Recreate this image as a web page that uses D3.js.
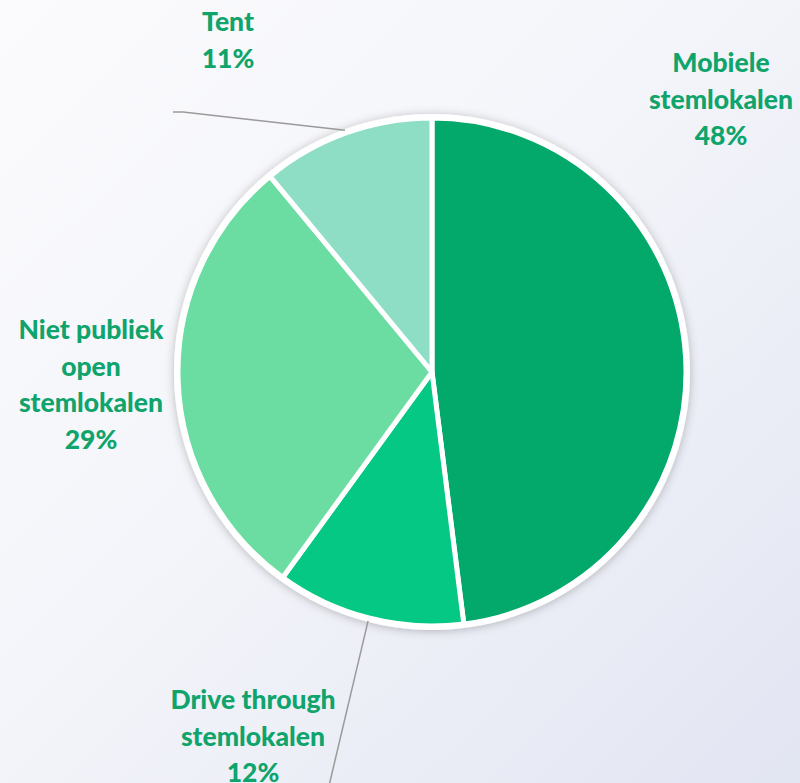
<!DOCTYPE html>
<html>
<head>
<meta charset="utf-8">
<script src="https://cdn.jsdelivr.net/npm/d3@7"></script>
<style>
  html, body { margin: 0; padding: 0; }
  body { width: 800px; height: 783px; overflow: hidden; }
</style>
</head>
<body>
<svg id="chart" width="800" height="783"></svg>
<script>
// chart data
const categories = ["Mobiele stemlokalen", "Drive through stemlokalen", "Niet publiek open stemlokalen", "Tent"];
const values = [48, 12, 29, 11];
const labelLines = [
    ["Mobiele", "stemlokalen"],
    ["Drive through", "stemlokalen"],
    ["Niet publiek", "open", "stemlokalen"],
    ["Tent"]
];

// styling / layout, kept apart from the data
const sliceColors = ["#03a86b", "#05c884", "#6bdda2", "#8ddec4"];
const labelColor = "#0fa46b";
const labelAnchors = [[721, 63], [253, 700], [91, 330], [228, 22]];
const leaders = { 3: [[173, 112], [183, 112]], 1: [[328, 790]] };

const renderPie = () => {
    const width = 800, height = 783;
    const cx = 432, cy = 372, radius = 254;
    const lineHeight = 36.5;

    const svg = d3.select("#chart");
    const defs = svg.append("defs");

    const bg = defs.append("linearGradient")
        .attr("id", "bg")
        .attr("x1", "0").attr("y1", "0")
        .attr("x2", "1").attr("y2", "1");
    bg.append("stop").attr("offset", "0").attr("stop-color", "#fbfbfd");
    bg.append("stop").attr("offset", "0.45").attr("stop-color", "#f4f5fa");
    bg.append("stop").attr("offset", "1").attr("stop-color", "#e2e5f2");

    const shadow = defs.append("filter")
        .attr("id", "shadow")
        .attr("x", "-20%").attr("y", "-20%")
        .attr("width", "140%").attr("height", "140%");
    shadow.append("feDropShadow")
        .attr("dx", 0).attr("dy", 1)
        .attr("stdDeviation", 5)
        .attr("flood-color", "#000")
        .attr("flood-opacity", 0.25);

    svg.append("rect")
        .attr("width", width).attr("height", height)
        .attr("fill", "url(#bg)");

    const pie = d3.pie().sort(null).value(d => d);
    const arcs = pie(values);

    const arc = d3.arc().innerRadius(0).outerRadius(radius);
    const edgeArc = d3.arc().innerRadius(radius + 3).outerRadius(radius + 3);

    const g = svg.append("g").attr("transform", `translate(${cx},${cy})`);

    // white backing disk with shadow, gives the outer white rim
    g.append("circle")
        .attr("r", radius + 4)
        .attr("fill", "#fff")
        .attr("filter", "url(#shadow)");

    g.selectAll("path.slice")
        .data(arcs)
        .enter()
        .append("path")
        .attr("class", "slice")
        .attr("d", arc)
        .attr("fill", (d, i) => sliceColors[i])
        .attr("stroke", "#fff")
        .attr("stroke-width", 5)
        .attr("stroke-linejoin", "round");

    // leader lines from arc midpoint to label
    Object.keys(leaders).forEach(key => {
        const i = +key;
        const [ex, ey] = edgeArc.centroid(arcs[i]);
        const pts = leaders[key].concat([[cx + ex, cy + ey]]);
        svg.append("path")
            .attr("d", d3.line()(pts))
            .attr("fill", "none")
            .attr("stroke", "#9a9a9a")
            .attr("stroke-width", 1.5);
    });

    // labels
    arcs.forEach((d, i) => {
        const lines = labelLines[i].concat([`${values[i]}%`]);
        const [lx, ly] = labelAnchors[i];
        const text = svg.append("text")
            .attr("x", lx)
            .attr("y", ly)
            .attr("text-anchor", "middle")
            .attr("font-family", "Lato, 'Open Sans', sans-serif")
            .attr("font-weight", 900)
            .attr("font-size", 26.5)
            .attr("fill", labelColor);
        lines.forEach((line, j) => {
            text.append("tspan")
                .attr("x", lx)
                .attr("y", ly + j * lineHeight)
                .attr("dy", "0.35em")
                .text(line);
        });
    });
}

renderPie();
</script>
</body>
</html>
